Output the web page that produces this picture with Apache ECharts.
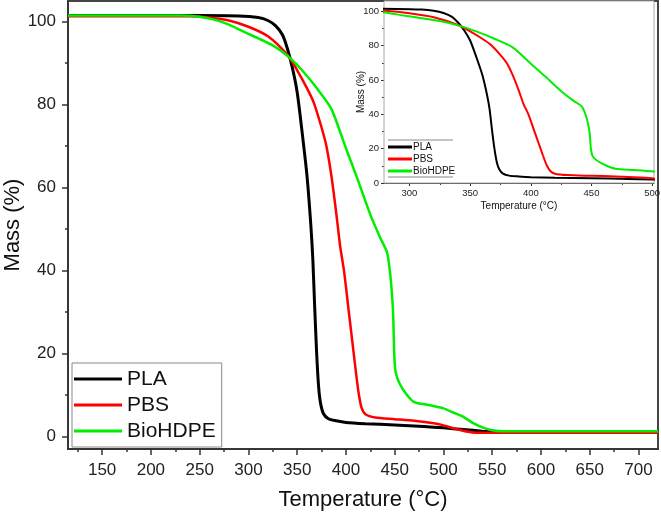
<!DOCTYPE html>
<html>
<head>
<meta charset="utf-8">
<script src="https://cdn.jsdelivr.net/npm/echarts@6/dist/echarts.min.js"></script>
<style>html,body{margin:0;padding:0;background:#fff}#c{width:661px;height:514px}</style>
</head>
<body>
<div id="c"></div>
<script>
// ---- data ----
const seriesNames = ['PLA', 'PBS', 'BioHDPE'];
const seriesColors = ['#000000', '#ff0000', '#00ee00'];

const tempPLA = [115, 250, 290, 310, 320, 328, 335, 340, 345, 350, 355, 360, 364, 366, 368, 370, 372, 374, 377, 382, 390, 400, 420, 450, 480, 500, 520, 540, 560, 600, 720];
const massPLA = [101.5, 101.5, 101.4, 101.0, 100.3, 99.0, 96.8, 93.5, 89.0, 83.0, 73.5, 63.0, 51.0, 43.0, 31.0, 20.0, 12.0, 8.0, 5.5, 4.3, 3.8, 3.4, 3.1, 2.8, 2.4, 2.1, 1.7, 1.3, 1.0, 1.0, 1.0];

const tempPBS = [115, 240, 260, 280, 300, 320, 340, 350, 360, 367, 375, 380, 385, 390, 394, 398, 402, 406, 410, 413, 416, 420, 430, 450, 470, 490, 500, 510, 520, 530, 545, 720];
const massPBS = [101.3, 101.3, 101.0, 100.3, 98.8, 96.5, 92.0, 88.3, 84.0, 80.5, 74.5, 70.0, 63.0, 54.0, 46.0, 40.0, 32.0, 24.0, 16.0, 10.5, 7.0, 5.4, 4.6, 4.2, 3.8, 3.2, 2.7, 2.0, 1.4, 1.0, 0.9, 0.9];

const tempHDPE = [115, 230, 250, 265, 280, 295, 310, 325, 340, 355, 370, 385, 400, 412, 425, 435, 442, 445, 447, 448.5, 449.5, 451, 455, 462, 470, 485, 500, 510, 520, 530, 540, 550, 560, 720];
const massHDPE = [101.5, 101.5, 101.2, 100.5, 99.3, 97.6, 96.0, 94.3, 91.8, 88.3, 84.0, 79.0, 69.5, 62.0, 53.5, 48.0, 44.5, 40.0, 35.0, 29.0, 20.0, 15.5, 12.8, 10.2, 8.3, 7.6, 6.8, 5.8, 4.8, 3.3, 2.2, 1.5, 1.3, 1.3];

const mainXTicks = [150, 200, 250, 300, 350, 400, 450, 500, 550, 600, 650, 700];
const mainXMinor = [125, 175, 225, 275, 325, 375, 425, 475, 525, 575, 625, 675];
const mainYTicks = [0, 20, 40, 60, 80, 100];
const mainYMinor = [10, 30, 50, 70, 90];
const insetXTicks = [300, 350, 400, 450, 500];
const insetXMinor = [325, 375, 425, 475];
const insetYTicks = [0, 20, 40, 60, 80, 100];
const insetYMinor = [10, 30, 50, 70, 90];

const temps = [tempPLA, tempPBS, tempHDPE];
const masses = [massPLA, massPBS, massHDPE];
const pairs = (t, m) => t.map((v, i) => [v, m[i]]);

const FONT = 'Liberation Sans, Arial, sans-serif';
const AX = '#333';

function majorAxis(grid, min, max, ticks, fs, margin, len, lw, name, nameGap, nameFs, isY) {
  return {
    type: 'value', gridIndex: grid, min: min, max: max,
    position: isY ? 'left' : 'bottom',
    name: name, nameLocation: 'middle', nameGap: nameGap, nameMoveOverlap: false,
    nameTextStyle: {fontFamily: FONT, fontSize: nameFs, color: '#111'},
    axisLine: {show: true, onZero: false, lineStyle: {color: AX, width: lw}},
    axisTick: {show: true, inside: false, length: len, customValues: ticks, lineStyle: {color: AX, width: lw}},
    axisLabel: {show: true, customValues: ticks, margin: margin, fontFamily: FONT, fontSize: fs, color: '#222'},
    splitLine: {show: false}
  };
}
function minorAxis(grid, min, max, ticks, len, lw, isY) {
  return {
    type: 'value', gridIndex: grid, min: min, max: max,
    position: isY ? 'left' : 'bottom',
    axisLine: {show: false, onZero: false},
    axisTick: {show: true, inside: false, length: len, customValues: ticks, lineStyle: {color: AX, width: lw}},
    axisLabel: {show: false},
    splitLine: {show: false}
  };
}

// grids 0/1: main & inset; grids 2/3: same rectangles, carrying only the minor ticks
const xAxes = [
  majorAxis(0, 115, 720, mainXTicks, 17, 13, 6, 1.5, 'Temperature (°C)', 40, 22, false),
  majorAxis(1, 279, 501.5, insetXTicks, 9.5, 5, 3, 1, 'Temperature (°C)', 18, 10, false),
  minorAxis(2, 115, 720, mainXMinor, 3, 1.5, false),
  minorAxis(3, 279, 501.5, insetXMinor, 2, 1, false)
];
const yAxes = [
  majorAxis(0, -3, 105, mainYTicks, 17, 12, 6, 1.5, 'Mass (%)', 44, 22, true),
  majorAxis(1, 0, 106, insetYTicks, 9.5, 5, 3, 1, 'Mass (%)', 18, 10, true),
  minorAxis(2, -3, 105, mainYMinor, 3, 1.5, true),
  minorAxis(3, 0, 106, insetYMinor, 2, 1, true)
];

const series = [];
seriesNames.forEach((n, i) => {
  series.push({
    name: n, type: 'line', xAxisIndex: 0, yAxisIndex: 0,
    data: pairs(temps[i], masses[i]), smooth: 0.25, showSymbol: false, symbol: 'none',
    lineStyle: {color: seriesColors[i], width: i === 0 ? 3 : 2.5}, itemStyle: {color: seriesColors[i]},
    z: 2 + i, silent: true, animation: false
  });
});
seriesNames.forEach((n, i) => {
  series.push({
    name: n, type: 'line', xAxisIndex: 1, yAxisIndex: 1,
    data: pairs(temps[i], masses[i]), smooth: 0.25, showSymbol: false, symbol: 'none',
    lineStyle: {color: seriesColors[i], width: 2}, itemStyle: {color: seriesColors[i]},
    z: 12 + i, silent: true, animation: false, clip: true
  });
});

const common = {containLabel: false, outerBoundsMode: 'none'};
const chart = echarts.init(document.getElementById('c'), null, {renderer: 'canvas'});
chart.setOption({
  animation: false,
  backgroundColor: '#fff',
  grid: [
    Object.assign({left: 68, top: 1, width: 590, height: 448, show: true, borderColor: '#444', borderWidth: 2, backgroundColor: 'transparent'}, common),
    Object.assign({left: 384, top: 1, width: 270, height: 182, show: true, borderColor: '#aaa', borderWidth: 1, backgroundColor: '#fff', z: 10}, common),
    Object.assign({left: 68, top: 1, width: 590, height: 448, show: false}, common),
    Object.assign({left: 384, top: 1, width: 270, height: 182, show: false}, common)
  ],
  xAxis: xAxes,
  yAxis: yAxes,
  legend: [
    {
      data: seriesNames, orient: 'vertical', left: 72, top: 363,
      icon: 'rect', itemWidth: 48, itemHeight: 3, itemGap: 0,
      padding: [3, 6, 3, 2], borderColor: '#888', borderWidth: 1, backgroundColor: '#fff',
      textStyle: {fontFamily: FONT, fontSize: 21, color: '#111', lineHeight: 26},
      selectedMode: false
    },
    {
      data: seriesNames, orient: 'vertical', left: 388, top: 141,
      icon: 'rect', itemWidth: 24, itemHeight: 3, itemGap: 0, padding: 0,
      textStyle: {fontFamily: FONT, fontSize: 10, color: '#111', lineHeight: 12, padding: [0, 0, 0, -4]},
      selectedMode: false, z: 20
    }
  ],
  graphic: [
    {type: 'line', shape: {x1: 388, y1: 140, x2: 453, y2: 140}, style: {stroke: '#888', lineWidth: 1}, z: 100},
    {type: 'line', shape: {x1: 388, y1: 177, x2: 453, y2: 177}, style: {stroke: '#888', lineWidth: 1}, z: 100}
  ],
  series: series
});
</script>
</body>
</html>
